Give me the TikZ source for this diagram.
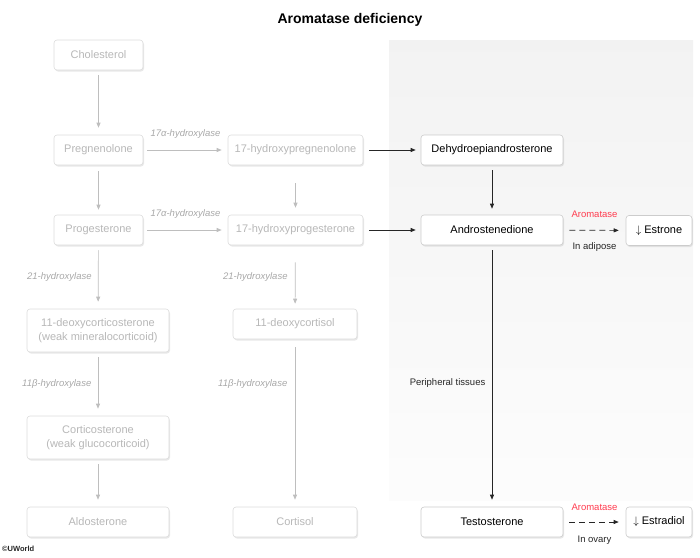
\documentclass[tikz,border=0pt]{standalone}
\usepackage{fontspec}
\setmainfont{Liberation Sans}
\usepackage{tikz}
\usetikzlibrary{shadows,arrows.meta}

\definecolor{fadeline}{HTML}{DCDCDC}
\definecolor{fadetext}{HTML}{B8B8B8}
\definecolor{fadearrow}{HTML}{BEBEBE}
\definecolor{enzymetext}{HTML}{A8A8A8}
\definecolor{aromred}{HTML}{FF3B4E}

\begin{document}
\begin{tikzpicture}[x=1pt, y=-1pt,
  box/.style = {shape = rectangle, rounded corners = 3pt, fill = white, draw = black!20, line width = 0.6pt,
    minimum height = 30pt, inner sep = 2pt, align = center, font = \fontsize{11}{13.5}\selectfont,
    drop shadow = {shadow xshift = 1pt, shadow yshift = -1.5pt, opacity = .18}},
  faded/.style = {box, draw = fadeline, text = fadetext},
  enzyme/.style = {font = \fontsize{9.5}{11}\selectfont\itshape, text = enzymetext},
  note/.style = {font = \fontsize{9.5}{11}\selectfont, text = black!85},
  gray arrow/.style = {draw = fadearrow, line width = 0.7pt, -{Triangle[length = 5pt, width = 4pt]}},
  dark arrow/.style = {draw = black!85, line width = 0.7pt, -{Triangle[length = 5pt, width = 4pt]}},
  dash arrow/.style = {dark arrow, dash pattern = on 6pt off 4pt}]

\useasboundingbox (0,0) rectangle (700,557);
\shade[top color = black!5, bottom color = black!1] (389,40) rectangle (693,500);
\node[font = \fontsize{14}{16}\selectfont\bfseries] (0) at (350,20) {Aromatase deficiency};

% left column
\node[faded, minimum width = 89pt] (1) at (98.5,55) {Cholesterol};
\node[faded, minimum width = 89pt] (2) at (98.5,150) {Pregnenolone};
\node[faded, minimum width = 89pt] (3) at (98.5,230) {Progesterone};
\node[faded, minimum width = 142pt, minimum height = 43pt] (4) at (98,330.5) {11-deoxycorticosterone\\(weak mineralocorticoid)};
\node[faded, minimum width = 142pt, minimum height = 43pt] (5) at (98,437.5) {Corticosterone\\(weak glucocorticoid)};
\node[faded, minimum width = 142pt] (6) at (98,522) {Aldosterone};

% middle column
\node[faded, minimum width = 135pt] (7) at (295.5,150) {17-hydroxypregnenolone};
\node[faded, minimum width = 135pt] (8) at (295.5,230) {17-hydroxyprogesterone};
\node[faded, minimum width = 124pt] (9) at (295,324) {11-deoxycortisol};
\node[faded, minimum width = 124pt] (10) at (295,522) {Cortisol};

% right column
\node[box, minimum width = 142pt] (11) at (492,150) {Dehydroepiandrosterone};
\node[box, minimum width = 142pt] (12) at (492,230) {Androstenedione};
\node[box, minimum width = 142pt] (13) at (492,522) {Testosterone};
\node[box, minimum width = 66pt] (14) at (659,230.5) {$\downarrow$ Estrone};
\node[box, minimum width = 66pt] (15) at (659,522) {$\downarrow$ Estradiol};

\draw[gray arrow, shorten < = 5pt, shorten > = 7pt] (1) -- (2);
\draw[gray arrow, shorten < = 6pt, shorten > = 5pt] (2) -- (3);
\draw[gray arrow, shorten < = 4pt, shorten > = 6pt] (2) -- (7) node[midway, above = 8pt, enzyme] (e1) {17α-hydroxylase};
\draw[gray arrow, shorten < = 4pt, shorten > = 6pt] (3) -- (8) node[midway, above = 8pt, enzyme] (e2) {17α-hydroxylase};
\draw[gray arrow, shorten < = 5pt, shorten > = 7pt] (3) -- (4) node[midway, left = 3pt, enzyme] (e3) {21-hydroxylase};
\draw[gray arrow, shorten < = 5pt, shorten > = 7pt] (4) -- (5) node[midway, left = 3pt, enzyme] (e4) {11β-hydroxylase};
\draw[gray arrow, shorten < = 5pt, shorten > = 7pt] (5) -- (6);
\draw[gray arrow, shorten < = 18pt, shorten > = 7pt] (7) -- (8);
\draw[gray arrow, shorten < = 17pt, shorten > = 5pt] (8) -- (9) node[midway, left = 4pt, enzyme] (e5) {21-hydroxylase};
\draw[gray arrow, shorten < = 8pt, shorten > = 7pt] (9) -- (10) node[pos = .265, left = 4pt, enzyme] (e6) {11β-hydroxylase};

\draw[dark arrow, shorten < = 6pt, shorten > = 5pt] (7) -- (11);
\draw[dark arrow, shorten < = 6pt, shorten > = 5pt] (8) -- (12);
\draw[dark arrow, shorten < = 5pt, shorten > = 6pt] (11) -- (12);
\draw[dark arrow, shorten < = 5pt, shorten > = 7pt] (12) -- (13) node[pos = .527, left = 3pt, note] (n1) {Peripheral tissues};
\draw[dash arrow, shorten < = 6pt, shorten > = 7pt] (12) -- (14)
  node[midway, above = 9pt, note, text = aromred] (a1) {Aromatase}
  node[midway, below = 9pt, note] (n2) {In adipose};
\draw[dash arrow, shorten < = 6pt, shorten > = 7pt] (13) -- (15)
  node[midway, above = 8pt, note, text = aromred] (a2) {Aromatase}
  node[midway, below = 10pt, note] (n3) {In ovary};

\node[font = \fontsize{7.5}{8}\selectfont\bfseries, text = black!85, anchor = west, inner sep = 1pt] (c) at (1,549) {\textcopyright UWorld};
\end{tikzpicture}
\end{document}
